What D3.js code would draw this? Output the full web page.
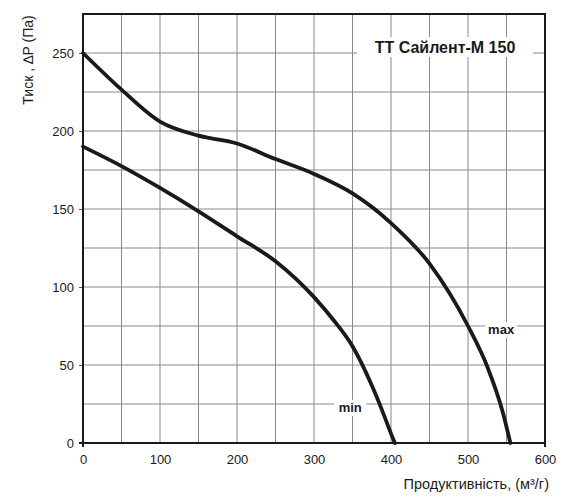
<!DOCTYPE html>
<html>
<head>
<meta charset="utf-8">
<script src="https://cdn.jsdelivr.net/npm/d3@7"></script>
<style>
  body { margin: 0; background: #fff; }
  text { font-family: "Liberation Sans", Arial, sans-serif; fill: #1a1a1a; }
</style>
</head>
<body>
<svg id="chart" width="573" height="502"></svg>
<script>
// fan curve data
const maxFlow = [0, 50, 100, 150, 200, 250, 300, 350, 400, 450, 500, 525, 545, 555];
const maxPressure = [250, 226.5, 206, 197, 192, 182, 172.5, 160, 141, 115, 75, 49, 20, 0];
const minFlow = [0, 50, 100, 150, 200, 250, 300, 325, 350, 375, 390, 400, 405];
const minPressure = [190, 177.5, 163.5, 148.5, 132.5, 116.5, 93.5, 79, 62, 37, 19, 6, 0];

const xTicks = [0, 100, 200, 300, 400, 500, 600];
const yTicks = [0, 50, 100, 150, 200, 250];
const xGrid = d3.range(0, 601, 50);
const yGrid = d3.range(0, 276, 25);

const title = "ТТ Сайлент-М 150";
const xTitle = "Продуктивність, (м³/г)";
const yTitle = "Тиск , ∆P (Па)";

const svg = d3.select("#chart");
const margin = { top: 14, right: 28, bottom: 59, left: 83 };
const width = 573, height = 502;

const x = d3.scaleLinear().domain([0, 600]).range([margin.left, width - margin.right]);
const y = d3.scaleLinear().domain([0, 275]).range([height - margin.bottom, margin.top]);

// grid
const grid = svg.append("g").attr("stroke", "#8a8a8a").attr("stroke-width", 1);
grid.selectAll(".gx")
  .data(xGrid)
  .join("line")
  .attr("x1", (d) => x(d)).attr("x2", (d) => x(d))
  .attr("y1", y(0)).attr("y2", y(275));
grid.selectAll(".gy")
  .data(yGrid)
  .join("line")
  .attr("y1", (d) => y(d)).attr("y2", (d) => y(d))
  .attr("x1", x(0)).attr("x2", x(600));

// y axis ticks + labels
svg.append("g")
  .attr("transform", `translate(${x(0)},0)`)
  .call(d3.axisLeft(y).tickValues(yTicks).tickSize(4).tickPadding(5))
  .call((g) => g.select(".domain").remove())
  .call((g) => g.selectAll("line").attr("stroke", "#555"))
  .call((g) => g.selectAll("text").attr("font-size", 13).attr("fill", "#1a1a1a")
    .style("font-family", "Liberation Sans, Arial, sans-serif"));

// x axis labels (ticks only at the ends)
svg.append("g")
  .attr("transform", `translate(0,${y(0)})`)
  .call(d3.axisBottom(x).tickValues(xTicks).tickSize(0).tickPadding(12))
  .call((g) => g.select(".domain").remove())
  .call((g) => g.selectAll("text").attr("font-size", 13).attr("fill", "#1a1a1a")
    .style("font-family", "Liberation Sans, Arial, sans-serif"));

// frame
svg.append("rect")
  .attr("x", x(0)).attr("y", y(275))
  .attr("width", x(600) - x(0)).attr("height", y(0) - y(275))
  .attr("fill", "none").attr("stroke", "#1a1a1a").attr("stroke-width", 2);
svg.append("g").attr("stroke", "#1a1a1a").attr("stroke-width", 2)
  .selectAll("line")
  .data([0, 600])
  .join("line")
  .attr("x1", (d) => x(d)).attr("x2", (d) => x(d))
  .attr("y1", y(0)).attr("y2", y(0) + 4);
svg.append("line")
  .attr("x1", x(0) - 4).attr("x2", x(0))
  .attr("y1", y(0)).attr("y2", y(0))
  .attr("stroke", "#1a1a1a").attr("stroke-width", 2);

// curves
const line = d3.line()
  .x((d) => x(d[0]))
  .y((d) => y(d[1]))
  .curve(d3.curveMonotoneX);

const series = [
  { name: "max", pts: d3.zip(maxFlow, maxPressure), label: [543, 72.5] },
  { name: "min", pts: d3.zip(minFlow, minPressure), label: [347, 22.5] },
];

// curve labels with white backing
const labels = svg.append("g").selectAll("g").data(series).join("g")
  .attr("transform", (d) => `translate(${x(d.label[0])},${y(d.label[1])})`);
labels.append("rect")
  .attr("x", -16).attr("y", -8).attr("width", 32).attr("height", 16)
  .attr("fill", "#fff");
labels.append("text")
  .attr("text-anchor", "middle").attr("dy", "0.35em")
  .attr("font-size", 13).attr("font-weight", "bold")
  .text((d) => d.name);

svg.append("g")
  .selectAll("path")
  .data(series)
  .join("path")
  .attr("d", (d) => line(d.pts))
  .attr("fill", "none")
  .attr("stroke", "#1a1a1a")
  .attr("stroke-width", 3.8)
  .attr("stroke-linecap", "round");

// title box
const tg = svg.append("g").attr("transform", `translate(445,${47})`);
tg.append("rect")
  .attr("x", -88).attr("y", -10).attr("width", 176).attr("height", 20)
  .attr("fill", "#fff");
tg.append("text")
  .attr("text-anchor", "middle").attr("dy", "0.36em")
  .attr("font-size", 16).attr("font-weight", "bold")
  .text(title);

// axis titles
svg.append("text")
  .attr("x", 549).attr("y", 489)
  .attr("text-anchor", "end")
  .attr("font-size", 14.5)
  .text(xTitle);

svg.append("text")
  .attr("transform", "translate(33,60) rotate(-90)")
  .attr("text-anchor", "middle")
  .attr("font-size", 14)
  .text(yTitle);
</script>
</body>
</html>
